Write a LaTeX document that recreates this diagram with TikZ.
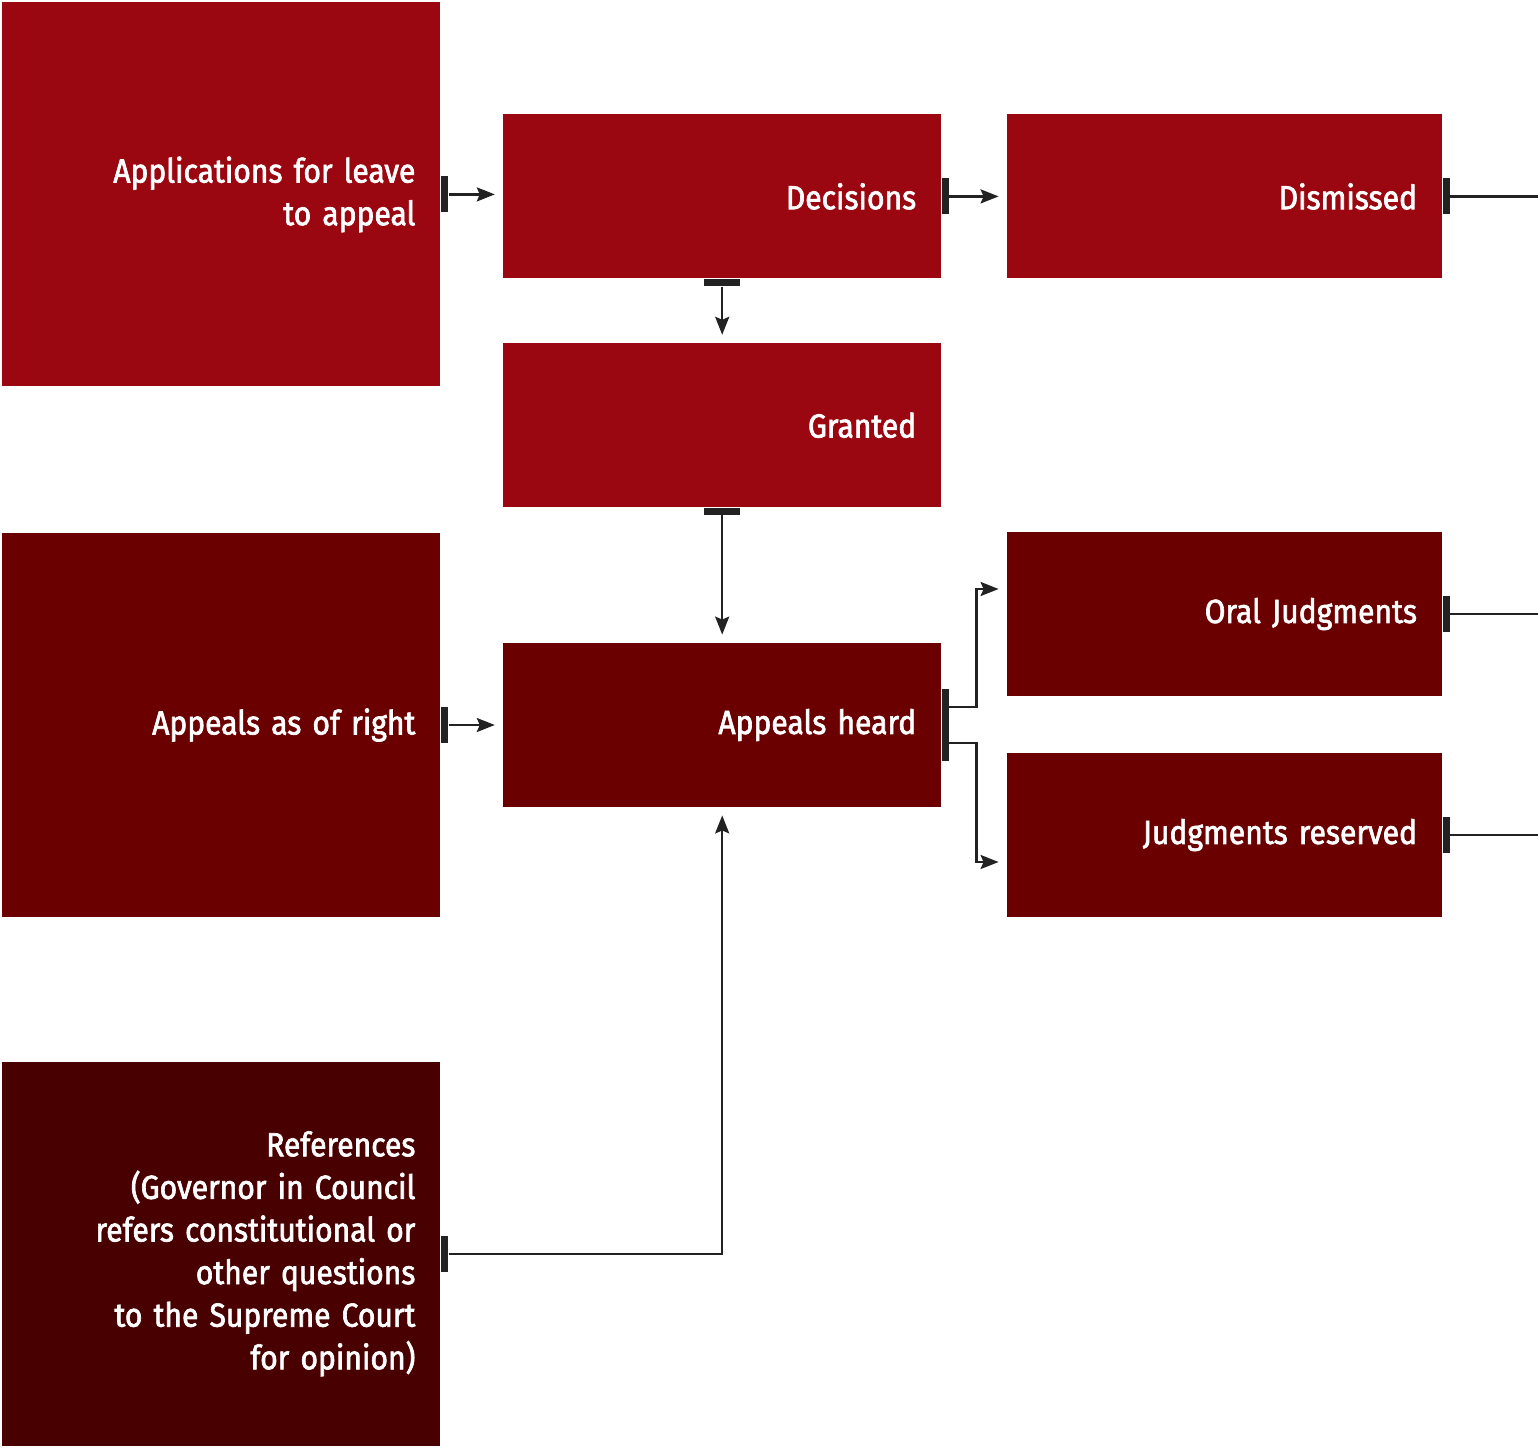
\documentclass[tikz,border=0pt]{standalone}
\usepackage{fontspec}
\setmainfont{Fira Sans}[FakeStretch=0.9,FakeBold=2]
\usepackage{tikz}
\usetikzlibrary{arrows.meta,positioning}
\definecolor{redA}{RGB}{155,7,16}
\definecolor{redB}{RGB}{107,0,0}
\definecolor{redC}{RGB}{72,0,0}
\definecolor{ink}{RGB}{34,34,34}
\tikzset{box/.style={draw=none,fill=redA,text=white,align=right,inner xsep=12.5pt,inner ysep=0pt,font=\fontsize{16.7}{21.3}\selectfont},tall/.style={box,minimum width=219pt,minimum height=192pt,text width=194pt},wide/.style={box,minimum width=219pt,minimum height=82pt,text width=194pt},side/.style={box,minimum width=217.5pt,minimum height=82pt,text width=192.5pt},port/.style={fill=ink,inner sep=0pt,minimum width=3.5pt,minimum height=18pt,anchor=west},portd/.style={fill=ink,inner sep=0pt,minimum width=18pt,minimum height=3.5pt,anchor=north},flow/.style={-{Stealth[length=9pt,width=7pt,inset=1.5pt]},line width=1.2pt,draw=ink,shorten >=4pt},wire/.style={line width=1.2pt,draw=ink}}

\begin{document}
\begin{tikzpicture}[node distance=31pt]
\useasboundingbox (0,0) rectangle (769pt,-723.5pt);
\coordinate (edge) at (769pt,0);
\node[tall,anchor=north west] (apply) at (1pt,-1pt) {Applications for leave\\to appeal};
\node[wide,right=of apply,yshift=-1pt] (decide) {Decisions};
\node[side,right=32.5pt of decide] (dismiss) {Dismissed};
\node[wide,below=32pt of decide] (grant) {Granted};
\node[wide,fill=redB,below=67.5pt of grant] (heard) {Appeals heard};
\node[tall,fill=redB,left=of heard] (aright) {Appeals as of right};
\node[side,fill=redB,right=32.5pt of heard,yshift=55.5pt] (oral) {Oral Judgments};
\node[side,fill=redB,right=32.5pt of heard,yshift=-55pt] (reserve) {Judgments reserved};
\node[tall,fill=redC,below=72pt of aright] (refs) {References\\(Governor in Council\\refers constitutional or\\other questions\\to the Supreme Court\\for opinion)};
\node[port] (applyp) at (apply.east) {};
\node[port] (decidep) at (decide.east) {};
\node[portd] (decided) at (decide.south) {};
\node[port] (dismissp) at (dismiss.east) {};
\node[portd] (grantd) at (grant.south) {};
\node[port] (arightp) at (aright.east) {};
\node[port,yshift=9pt] (heardp1) at (heard.east) {};
\node[port,yshift=-9pt] (heardp2) at (heard.east) {};
\node[port] (oralp) at (oral.east) {};
\node[port] (reservep) at (reserve.east) {};
\node[port] (refsp) at (refs.east) {};
\draw[flow] (applyp.east)--(applyp.east-|decide.west);
\draw[flow] (decidep.east)--(dismiss.west);
\draw[wire] (dismissp.east)--(dismissp.east-|edge);
\draw[flow] (decided.south)--(grant.north);
\draw[flow] (grantd.south)--(heard.north);
\draw[flow] (arightp.east)--(heard.west);
\draw[flow] (heardp1.east)--++(13.5pt,0)|-([yshift=12.5pt]oral.west);
\draw[flow] (heardp2.east)--++(13.5pt,0)|-([yshift=-13.5pt]reserve.west);
\draw[wire] (oralp.east)--(oralp.east-|edge);
\draw[wire] (reservep.east)--(reservep.east-|edge);
\draw[flow] (refsp.east)-|(heard.south);
\end{tikzpicture}
\end{document}
